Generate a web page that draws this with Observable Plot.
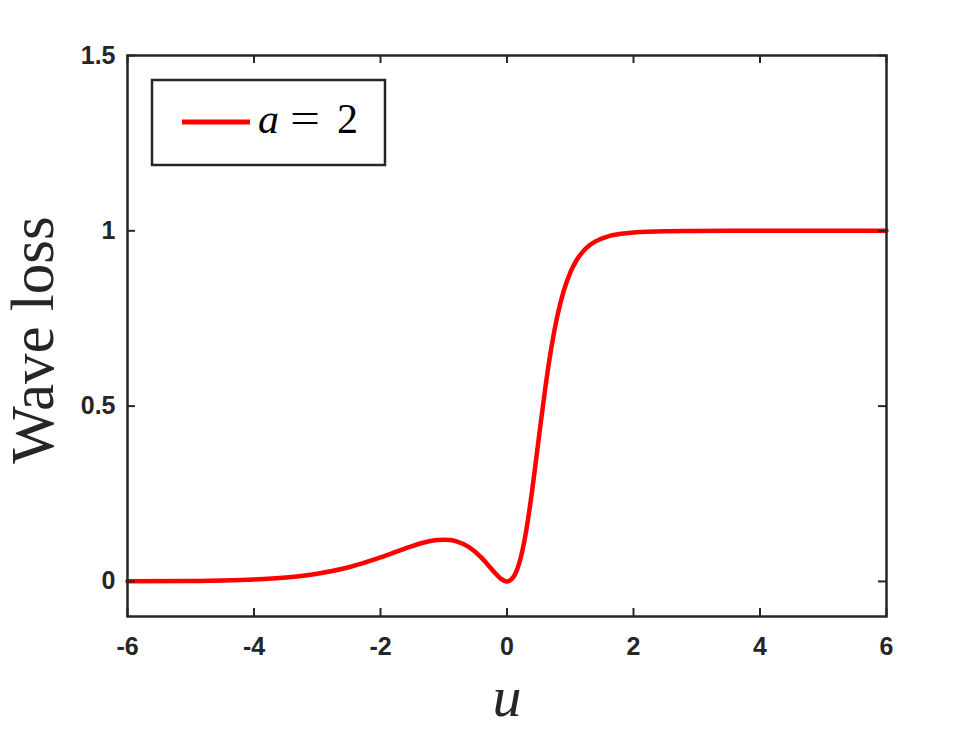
<!DOCTYPE html>
<html>
<head>
<meta charset="utf-8">
<script src="https://cdn.jsdelivr.net/npm/d3@7"></script>
<script src="https://cdn.jsdelivr.net/npm/@observablehq/plot@0.6"></script>
<style>
  html, body { margin: 0; padding: 0; background: #ffffff; }
  #chart { width: 980px; height: 735px; }
</style>
</head>
<body>
<div id="chart"></div>
<script>
// Data
const u = [-6, -5, -4.5, -4, -3.5, -3, -2.5, -2, -1.75, -1.5, -1.25, -1.1, -1, -0.9, -0.8, -0.6, -0.4, -0.3, -0.2, -0.1, 0, 0.1, 0.2, 0.3, 0.4, 0.5, 0.6, 0.7, 0.8, 0.9, 1, 1.1, 1.2, 1.3, 1.4, 1.6, 1.8, 2, 2.5, 3, 4, 5, 6];
const loss = [0.0002, 0.0011, 0.0025, 0.0053, 0.0110, 0.0218, 0.0404, 0.0683, 0.0847, 0.1007, 0.1137, 0.1182, 0.1192, 0.1181, 0.1144, 0.0978, 0.0671, 0.0471, 0.0261, 0.0081, 0, 0.0121, 0.0563, 0.1409, 0.2626, 0.4046, 0.5445, 0.6652, 0.7602, 0.8305, 0.8808, 0.9161, 0.9407, 0.9579, 0.9699, 0.9843, 0.9916, 0.9954, 0.9989, 0.9997, 1.0, 1.0, 1.0];
const xTicks = [-6, -4, -2, 0, 2, 4, 6];
const yTicks = [0, 0.5, 1, 1.5];
const xDomain = [-6, 6];
const yDomain = [-0.1, 1.5];
const seriesName = "a";
const seriesValue = "2";
const xLabel = "u";
const yLabel = "Wave loss";

const data = u.map((d, i) => ({u: d, loss: loss[i]}));

const W = 980, H = 735;
const mL = 127, mR = 94, mT = 55, mB = 119;
const innerW = W - mL - mR, innerH = H - mT - mB;
const tickLen = 8;
const ink = "#262626";
const serif = "'Liberation Serif', 'DejaVu Serif', serif";

function legend(index, scales, values, dims) {
  const g = d3.create("svg:g");
  const x0 = dims.marginLeft + 25, y0 = dims.marginTop + 25;
  g.append("rect")
    .attr("x", x0).attr("y", y0).attr("width", 233).attr("height", 85)
    .attr("fill", "white").attr("stroke", ink).attr("stroke-width", 2.5);
  g.append("line")
    .attr("x1", x0 + 30).attr("x2", x0 + 98)
    .attr("y1", y0 + 42).attr("y2", y0 + 42)
    .attr("stroke", "#ff0000").attr("stroke-width", 5);
  const base = y0 + 53;
  g.append("text")
    .attr("x", x0 + 106).attr("y", base)
    .attr("text-anchor", "start")
    .attr("font-family", serif).attr("font-size", 42).attr("font-style", "italic")
    .attr("fill", "#000").text(seriesName);
  g.append("text")
    .attr("x", x0 + 138).attr("y", base - 1)
    .attr("text-anchor", "start")
    .attr("textLength", 30).attr("lengthAdjust", "spacingAndGlyphs")
    .attr("font-family", serif).attr("font-size", 42)
    .attr("fill", "#000").text("=");
  g.append("text")
    .attr("x", x0 + 185).attr("y", base)
    .attr("text-anchor", "start")
    .attr("font-family", serif).attr("font-size", 42)
    .attr("fill", "#000").text(seriesValue);
  return g.node();
}

const chart = Plot.plot({
  width: W,
  height: H,
  marginLeft: mL,
  marginRight: mR,
  marginTop: mT,
  marginBottom: mB,
  x: {domain: xDomain},
  y: {domain: yDomain},
  style: {
    fontFamily: "'Liberation Sans', Arial, sans-serif",
    fontSize: "25px",
    color: ink,
    background: "white",
    overflow: "visible"
  },
  marks: [
    Plot.line(data, {x: "u", y: "loss", stroke: "#ff0000", strokeWidth: 4.5, curve: "monotone-x"}),
    // inward ticks, bottom & top
    Plot.tickX(xTicks, {x: d => d, stroke: ink, strokeWidth: 2, insetTop: innerH - tickLen}),
    Plot.tickX(xTicks, {x: d => d, stroke: ink, strokeWidth: 2, insetBottom: innerH - tickLen}),
    // inward ticks, left & right
    Plot.tickY(yTicks, {y: d => d, stroke: ink, strokeWidth: 2, insetRight: innerW - tickLen}),
    Plot.tickY(yTicks, {y: d => d, stroke: ink, strokeWidth: 2, insetLeft: innerW - tickLen}),
    Plot.frame({stroke: ink, strokeWidth: 2.5}),
    Plot.axisX(xTicks, {anchor: "bottom", tickSize: 0, tickPadding: 21, tickFormat: d => String(d), fontSize: 25, fontWeight: "bold", fill: ink, label: null}),
    Plot.axisY(yTicks, {anchor: "left", tickSize: 0, tickPadding: 12, tickFormat: d => String(d), fontSize: 25, fontWeight: "bold", fill: ink, label: null}),
    Plot.text([yLabel], {
      text: d => d, frameAnchor: "left", dx: -75, dy: 4, rotate: -90,
      lineAnchor: "bottom", textAnchor: "middle",
      fontFamily: serif, fontSize: 61, fill: ink
    }),
    Plot.text([xLabel], {
      text: d => d, frameAnchor: "bottom", dy: 99,
      lineAnchor: "bottom", textAnchor: "middle", fontStyle: "italic",
      fontFamily: serif, fontSize: 58, fill: ink
    }),
    legend
  ]
});

document.getElementById("chart").appendChild(chart);
</script>
</body>
</html>
